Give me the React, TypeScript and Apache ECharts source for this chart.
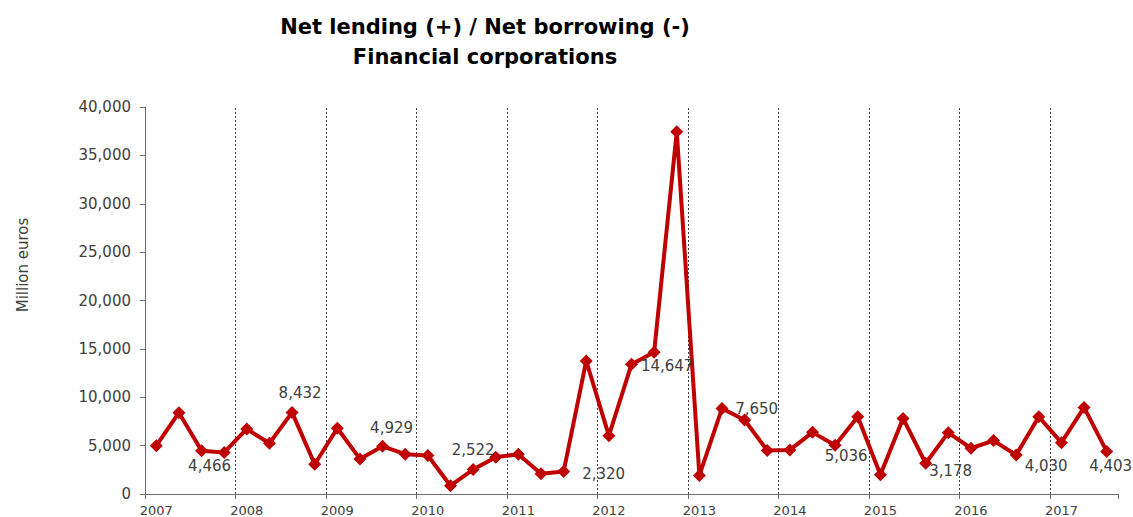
import React, { useEffect, useRef } from "react";
import * as echarts from "echarts";

const years = ["2007", "2008", "2009", "2010", "2011", "2012", "2013", "2014", "2015", "2016", "2017"];
const quarters = ["Q1", "Q2", "Q3", "Q4"];
const categories: string[] = [];
years.forEach((y) => quarters.forEach((q) => categories.push(y + q)));
categories.splice(43);

const values = [
  5000, 8400, 4466, 4300,
  6720, 5240, 8432, 3080,
  6790, 3630, 4929, 4110,
  3980, 860, 2522, 3800,
  4110, 2090, 2320, 13750,
  6030, 13400, 14647, 37450,
  1920, 8840, 7650, 4490,
  4560, 6370, 5036, 7990,
  1990, 7810, 3178, 6340,
  4730, 5520, 4030, 7990,
  5310, 8950, 4403,
];

// year boundaries, in quarters from the start of 2007
const yearBoundaries = [4, 8, 12, 16, 20, 24, 28, 32, 36, 40];

// labelled points: category index -> label offset [dx, dy] from the marker centre
const labelOffsets: Record<number, [number, number]> = {
  2: [8, 15],
  6: [8, -19],
  10: [9, -18],
  14: [0, -20],
  18: [40, 2],
  22: [13, 14],
  26: [12, -11],
  30: [11, 11],
  34: [25, 8],
  38: [30, 11],
  42: [4, 15],
};

const yTicks = { min: 0, max: 40000, interval: 5000 };
const titleLines = ["Net lending (+) / Net borrowing (-)", "Financial corporations"];
const yName = "Million euros";
const FONT = "DejaVu Sans";

export default function App() {
  const ref = useRef<HTMLDivElement>(null);
  useEffect(() => {
    document.body.style.margin = "0";
    if (!ref.current) return;
    const chart = echarts.init(ref.current, null, { renderer: "svg" });
    const data = values.map((v, i) => {
      const off = labelOffsets[i];
      if (!off) return v;
      return {
        value: v,
        label: {
          show: true,
          position: "inside",
          offset: off,
          formatter: (p: any) => Number(p.value).toLocaleString("en-US"),
          color: "#404040",
          fontFamily: FONT,
          fontSize: 15,
        },
      };
    });
    chart.setOption({
      animation: false,
      backgroundColor: "#ffffff",
      grid: { left: 145, right: 15, top: 107, bottom: 21, containLabel: false },
      graphic: [
        {
          type: "text",
          x: 485,
          y: 42,
          style: {
            text: titleLines.join("\n"),
            font: `bold 21px "${FONT}"`,
            fill: "#000",
            textAlign: "center",
            textVerticalAlign: "middle",
            lineHeight: 30,
          },
        },
        {
          type: "text",
          x: 23,
          y: 265,
          rotation: Math.PI / 2,
          style: {
            text: yName,
            font: `15px "${FONT}"`,
            fill: "#404040",
            textAlign: "center",
            textVerticalAlign: "middle",
          },
        },
      ],
      xAxis: [
        {
          type: "category",
          data: categories,
          boundaryGap: true,
          axisLine: { show: true, lineStyle: { color: "#6e6e6e", width: 1 } },
          axisTick: {
            show: true,
            length: 5,
            interval: (i: number) => i % 4 === 0,
            lineStyle: { color: "#6e6e6e" },
          },
          axisLabel: {
            interval: (i: number) => i % 4 === 0,
            formatter: (v: string) => v.slice(0, 4),
            color: "#404040",
            fontFamily: FONT,
            fontSize: 13,
            margin: 10,
          },
          splitLine: { show: false },
        },
        {
          type: "value",
          min: 0,
          max: categories.length,
          show: false,
          splitLine: { show: false },
        },
      ],
      yAxis: {
        type: "value",
        min: yTicks.min,
        max: yTicks.max,
        interval: yTicks.interval,
        axisLine: { show: true, lineStyle: { color: "#6e6e6e", width: 1 } },
        axisTick: { show: true, length: 5, lineStyle: { color: "#6e6e6e" } },
        axisLabel: {
          formatter: (v: number) => v.toLocaleString("en-US"),
          color: "#404040",
          fontFamily: FONT,
          fontSize: 15,
          margin: 14,
        },
        splitLine: { show: false },
      },
      series: [
        {
          type: "line",
          xAxisIndex: 1,
          data: [[0, null]],
          showSymbol: false,
          silent: true,
          markLine: {
            silent: true,
            symbol: "none",
            label: { show: false },
            lineStyle: { color: "#404040", type: [2, 2], width: 1 },
            data: yearBoundaries.map((b) => ({ xAxis: b })),
          },
          z: 1,
        },
        {
          type: "line",
          data,
          symbol: "diamond",
          symbolSize: 13,
          lineStyle: { color: "#c00000", width: 4 },
          itemStyle: { color: "#c00000" },
          label: { show: false },
          z: 5,
        },
      ],
    });
    return () => chart.dispose();
  }, []);
  return <div ref={ref} style={{ width: 1133, height: 517 }} />;
}
